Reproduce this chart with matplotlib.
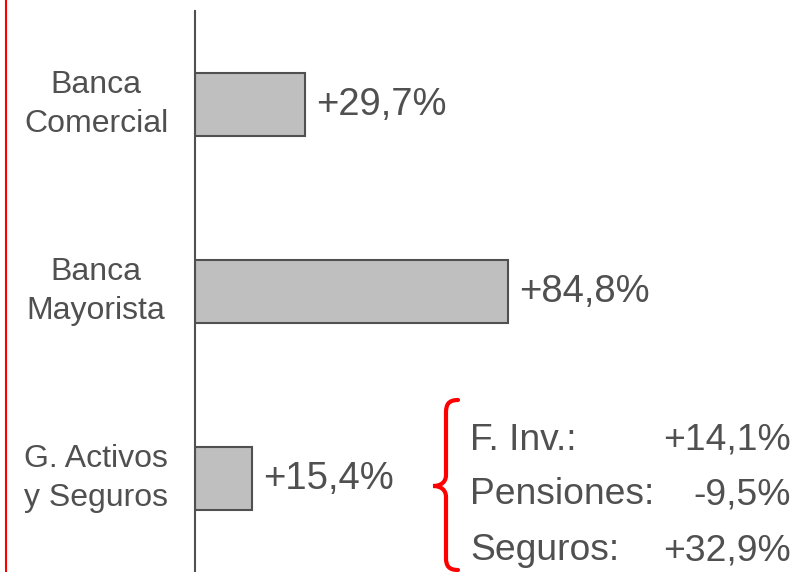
import matplotlib
matplotlib.use("Agg")
import matplotlib.pyplot as plt
import matplotlib.transforms as mtransforms
from matplotlib.path import Path
from matplotlib.patches import PathPatch
from matplotlib.lines import Line2D

plt.rcParams['font.family'] = ['Liberation Sans', 'DejaVu Sans']

categories = ["Banca\nComercial", "Banca\nMayorista", "G. Activos\ny Seguros"]
values = [29.7, 84.8, 15.4]
value_labels = ["+29,7%", "+84,8%", "+15,4%"]

sub_names = ["F. Inv.:", "Pensiones:", "Seguros:"]
sub_labels = ["+14,1%", "-9,5%", "+32,9%"]

TXT = "#505050"
W, H = 810, 572

fig = plt.figure(figsize=(W / 100, H / 100), dpi=100)
ax = fig.add_axes([195 / W, 0, 615 / W, 561 / H])

ypos = list(range(len(categories)))
ax.barh(ypos, values, height=0.34, color="#BFBFBF", edgecolor=TXT, linewidth=1.5)
ax.set_xlim(0, 615 / 3.69)
ax.set_ylim(2.5, -0.5)

for s in ["top", "right", "bottom"]:
    ax.spines[s].set_visible(False)
ax.spines["left"].set_color(TXT)
ax.spines["left"].set_linewidth(1.5)
ax.set_xticks([])
ax.set_yticks([])

lab_tr = mtransforms.blended_transform_factory(fig.transFigure, ax.transData)
for y, name in zip(ypos, categories):
    ax.text(96 / W, y, name, transform=lab_tr, ha="center", va="center",
            fontsize=23, color=TXT, linespacing=1.38, multialignment="center")

for y, v, lab in zip(ypos, values, value_labels):
    ax.annotate(lab, (v, y), xytext=(8, 0), textcoords="offset points",
                ha="left", va="center", fontsize=27.5, color=TXT)

# breakdown on the right
rows_y = [440, 495, 551]
for yy, n, lab in zip(rows_y, sub_names, sub_labels):
    fig.text(470 / W, 1 - yy / H, n, ha="left", va="center", fontsize=26.8, color=TXT)
    fig.text(791 / W, 1 - yy / H, lab, ha="right", va="center", fontsize=26.8, color=TXT)

# red brace
pts = [(458, 400), (448, 400), (446, 405), (446, 413),
       (446, 475),
       (446, 482), (441, 486), (433, 486),
       (441, 486), (446, 490), (446, 497),
       (446, 558),
       (446, 566), (449, 570), (458, 570)]
codes = [Path.MOVETO, Path.CURVE4, Path.CURVE4, Path.CURVE4,
         Path.LINETO,
         Path.CURVE4, Path.CURVE4, Path.CURVE4,
         Path.CURVE4, Path.CURVE4, Path.CURVE4,
         Path.LINETO,
         Path.CURVE4, Path.CURVE4, Path.CURVE4]
verts = [(x / W, 1 - y / H) for x, y in pts]
fig.patches.append(PathPatch(Path(verts, codes), transform=fig.transFigure,
                             facecolor="none", edgecolor="red", linewidth=3,
                             capstyle="round"))

# red line on the left edge
fig.add_artist(Line2D([6 / W, 6 / W], [0, 1], transform=fig.transFigure,
                      color="red", linewidth=1.5))

fig.savefig("out.png", dpi=100)
